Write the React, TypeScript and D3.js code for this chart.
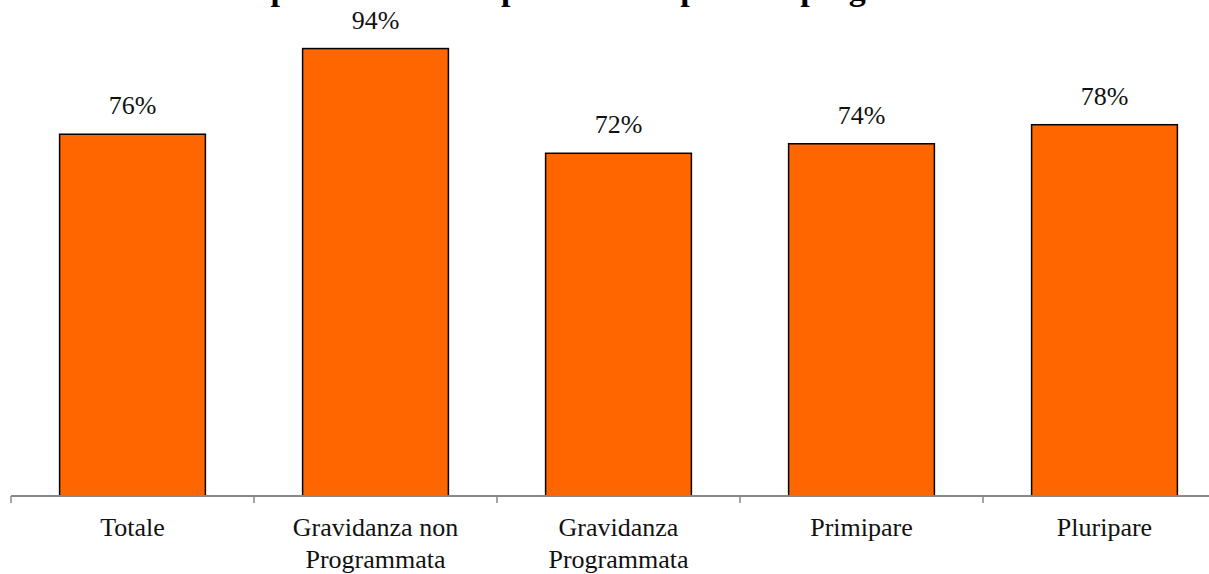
import React from 'react';
import * as d3 from 'd3';

const categories: string[][] = [
  ['Totale'],
  ['Gravidanza non', 'Programmata'],
  ['Gravidanza', 'Programmata'],
  ['Primipare'],
  ['Pluripare'],
];
const values = [0.76, 0.94, 0.72, 0.74, 0.78];
const title = 'Assunzione di acido folico prima del concepimento nel periodo pregravidico';

const width = 1209;
const height = 574;
const font = '"Liberation Serif", "Times New Roman", serif';

export default function App() {
  const x = d3.scaleBand<number>()
    .domain(values.map((_, i) => i))
    .range([11, 1226])
    .paddingInner(0.4)
    .paddingOuter(0.2);
  const y = d3.scaleLinear().domain([0, 1]).range([496, 20]);
  const pct = d3.format('.0%');
  const step = x.step();
  const left = x(0)! - x.paddingOuter() * step;

  return (
    <svg width={width} height={height} style={{ position: 'absolute', left: 0, top: 0, background: '#fff' }}>
      {/* title, mostly cut off by the top edge */}
      <text x={-113} y={0} fontFamily={font} fontWeight="bold" fontSize={34} fill="#000">{title}</text>

      {values.map((v, i) => (
        <g key={i}>
          <rect
            x={x(i)}
            y={y(v)}
            width={x.bandwidth()}
            height={y(0) - y(v)}
            fill="#FF6600"
            stroke="#000"
            strokeWidth={1.5}
          />
          <text
            x={x(i)! + x.bandwidth() / 2}
            y={y(v) - 20}
            textAnchor="middle"
            fontFamily={font}
            fontSize={26}
            fill="#111"
          >{pct(v)}</text>
        </g>
      ))}

      {/* category axis */}
      <line x1={left} x2={width} y1={y(0)} y2={y(0)} stroke="#888" strokeWidth={2} />
      {values.map((_, i) => (
        <line key={i} x1={left + i * step} x2={left + i * step} y1={y(0)} y2={y(0) + 7} stroke="#888" strokeWidth={1.5} />
      ))}
      {categories.map((lines, i) => (
        <text key={i} textAnchor="middle" fontFamily={font} fontSize={26} fill="#111">
          {lines.map((l, j) => (
            <tspan key={j} x={x(i)! + x.bandwidth() / 2} y={y(0) + 40 + j * 32}>{l}</tspan>
          ))}
        </text>
      ))}
    </svg>
  );
}
